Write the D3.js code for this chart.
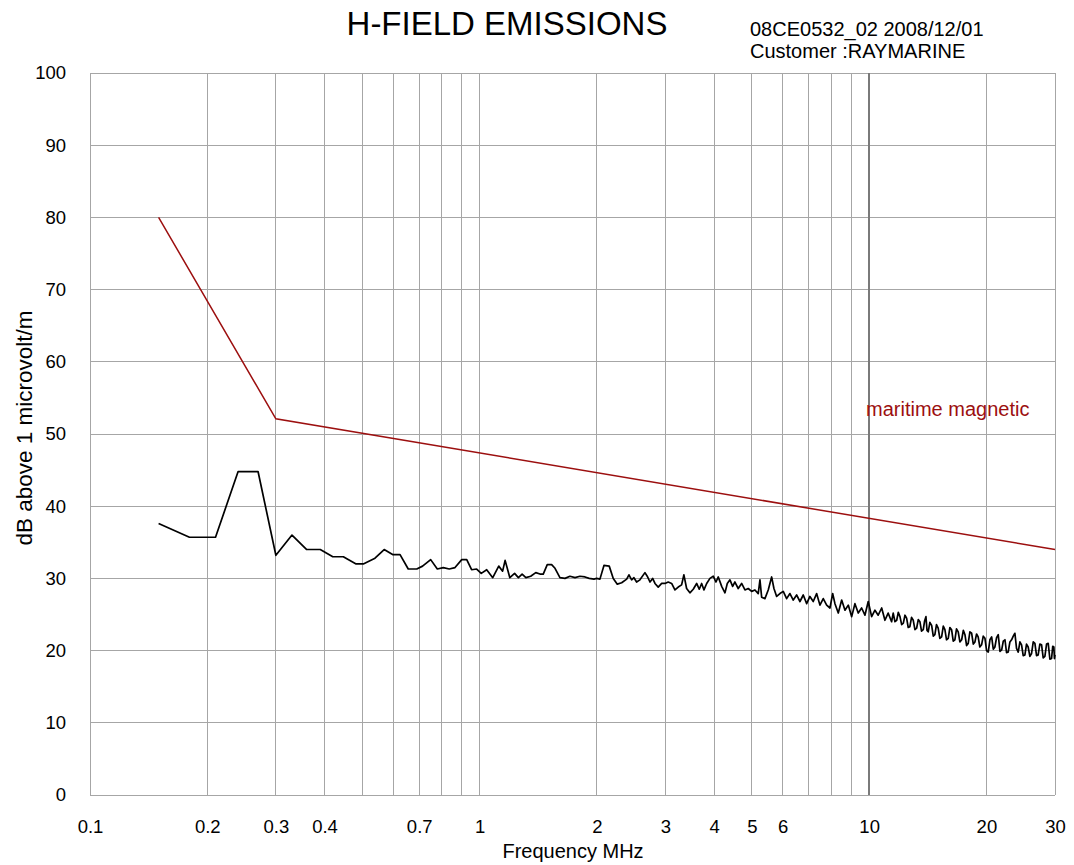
<!DOCTYPE html>
<html>
<head>
<meta charset="utf-8">
<script src="https://cdn.jsdelivr.net/npm/d3@7"></script>
<style>
  body { margin: 0; background: #fff; }
  svg { display: block; font-family: "Liberation Sans", Arial, sans-serif; }
</style>
</head>
<body>
<svg id="chart" width="1074" height="865"></svg>
<script>
// ---- data ----
const limitFreq = [0.15, 0.3, 30];
const limitDb = [80, 52.1, 34];

const measFreq = [
  0.15, 0.18, 0.21, 0.24, 0.27, 0.30, 0.33, 0.36, 0.39, 0.42, 0.447,
  0.482, 0.503, 0.539, 0.569, 0.598, 0.625, 0.656, 0.690, 0.714, 0.749,
  0.779, 0.807, 0.836, 0.865, 0.900, 0.927, 0.954, 0.983, 1.01, 1.043,
  1.081, 1.12, 1.146, 1.163, 1.196, 1.23, 1.258, 1.286, 1.315, 1.353,
  1.394, 1.429, 1.457, 1.492, 1.531, 1.562, 1.608, 1.657, 1.706, 1.758,
  1.810, 1.865, 1.912, 1.966, 1.998, 2.037, 2.086, 2.152, 2.204, 2.257,
  2.316, 2.386, 2.418, 2.457, 2.490, 2.530, 2.580, 2.658, 2.694, 2.738,
  2.782, 2.820, 2.875, 2.934, 2.992, 3.050, 3.112, 3.173, 3.236, 3.301,
  3.346, 3.400, 3.467, 3.536, 3.608, 3.664, 3.716, 3.767, 3.828, 3.903,
  3.980, 4.044, 4.100, 4.183, 4.265, 4.324, 4.393, 4.463, 4.524, 4.613,
  4.707, 4.800, 4.894, 4.994, 5.092, 5.192, 5.245, 5.298, 5.402, 5.508,
  5.620, 5.697, 5.789, 5.902, 6.019, 6.141, 6.262, 6.386, 6.515, 6.644,
  6.775, 6.913, 7.047, 7.187, 7.332, 7.477, 7.625, 7.780, 7.933, 8.061,
  8.171, 8.333, 8.502, 8.670, 8.840, 9.020, 9.195, 9.376, 9.566, 9.755,
  9.947, 10.15, 10.35, 10.55, 10.77, 10.98, 11.19, 11.42,
  11.53, 11.65, 11.77, 11.88, 12.00, 12.12, 12.24, 12.36, 12.48, 12.60,
  12.72, 12.85, 12.98, 13.11, 13.24, 13.37, 13.50, 13.63, 13.77, 13.88,
  13.99, 14.08, 14.18, 14.32, 14.47, 14.61, 14.75, 14.89, 15.04, 15.19,
  15.35, 15.50, 15.65, 15.80, 15.96, 16.12, 16.28, 16.44, 16.60, 16.76,
  16.93, 17.10, 17.28, 17.45, 17.62, 17.79, 17.96, 18.14, 18.33, 18.51,
  18.69, 18.87, 19.05, 19.24, 19.44, 19.63, 19.83, 20.02, 20.22, 20.42,
  20.63, 20.83, 21.03, 21.24, 21.45, 21.67, 21.89, 22.10, 22.32, 22.53,
  22.75, 22.98, 23.21, 23.44, 23.67, 23.90, 24.14, 24.38, 24.62, 24.86,
  25.11, 25.35, 25.60, 25.86, 26.12, 26.38, 26.64, 26.90, 27.16, 27.43,
  27.71, 27.98, 28.26, 28.54, 28.82, 29.11, 29.40, 29.60, 29.80, 29.90, 30.0
];
const measDb = [
  37.6, 35.7, 35.7, 44.8, 44.8, 33.2, 36.0, 34.0, 34.0, 33.0, 33.0,
  32.0, 32.0, 32.8, 34.0, 33.3, 33.3, 31.3, 31.3, 31.7, 32.6,
  31.3, 31.5, 31.3, 31.5, 32.6, 32.6, 31.2, 31.3, 30.7, 31.2,
  30.1, 31.7, 31.0, 32.5, 30.1, 30.7, 30.1, 30.6, 30.1, 30.3,
  30.8, 30.6, 30.6, 31.9, 31.9, 31.4, 30.1, 30.0, 30.3, 30.1,
  30.3, 30.2, 30.0, 29.9, 30.0, 29.9, 31.8, 31.7, 30.0, 29.2,
  29.4, 29.9, 30.5, 29.8, 30.1, 29.5, 29.8, 30.8, 30.3, 29.5,
  30.0, 29.3, 28.8, 29.3, 29.3, 29.5, 29.3, 28.4, 28.8, 29.1,
  30.5, 28.6, 28.0, 28.5, 29.3, 28.5, 29.3, 28.4, 29.3, 30.0,
  30.3, 29.5, 30.2, 28.9, 28.0, 29.3, 29.8, 28.9, 29.5, 28.6,
  29.3, 28.4, 28.6, 28.2, 28.4, 27.9, 29.8, 27.4, 27.2, 28.4,
  30.2, 28.6, 27.5, 27.9, 28.2, 27.2, 27.9, 27.0, 27.7, 26.8,
  27.7, 26.5, 27.5, 26.8, 27.9, 26.3, 27.2, 26.3, 25.9, 27.9,
  26.5, 25.2, 27.0, 25.6, 26.3, 24.7, 26.5, 25.2, 25.9, 24.9,
  26.8, 24.7, 25.6, 24.9, 25.9, 24.2, 25.2, 24.0,
  25.2, 24.0, 24.2, 25.3, 24.7, 23.6, 23.8, 24.9, 24.5, 23.2,
  23.3, 24.6, 24.2, 22.9, 23.1, 24.3, 24.0, 22.7, 22.9, 24.1,
  24.7, 22.8, 22.6, 23.9, 23.5, 22.0, 22.2, 23.6, 23.1, 21.7,
  21.9, 23.4, 22.9, 21.5, 21.7, 23.2, 22.9, 21.3, 21.5, 23.0,
  22.6, 21.2, 21.5, 22.8, 22.2, 20.7, 21.0, 22.6, 22.4, 20.9,
  21.2, 22.3, 21.9, 20.5, 20.8, 22.0, 21.7, 20.0, 19.8, 21.5,
  21.9, 20.2, 20.5, 21.8, 22.2, 19.9, 20.1, 21.3, 21.5, 19.7,
  19.8, 21.2, 21.5, 22.0, 22.4, 20.3, 19.8, 21.2, 20.8, 19.3,
  19.4, 20.9, 20.5, 19.2, 19.6, 21.2, 21.0, 19.3, 19.4, 20.9,
  20.8, 19.0, 19.2, 20.9, 21.0, 18.8, 18.9, 20.6, 20.5, 18.9, 19.4
];

const xTickLabels = [0.1, 0.2, 0.3, 0.4, 0.7, 1, 2, 3, 4, 5, 6, 10, 20, 30];
const xGridValues = [0.2, 0.3, 0.4, 0.5, 0.6, 0.7, 0.8, 0.9, 1, 2, 3, 4, 5, 6, 7, 8, 9, 10, 20, 30];
const yTicks = [0, 10, 20, 30, 40, 50, 60, 70, 80, 90, 100];

// ---- chart ----
const svg = d3.select("#chart");
const x = d3.scaleLog().domain([0.1, 30]).range([90, 1055]);
const y = d3.scaleLinear().domain([0, 100]).range([795, 73]);
const FONT = "Liberation Sans, Arial, sans-serif";

const grid = svg.append("g");
grid.selectAll("line.h").data(yTicks).join("line")
  .attr("x1", x(0.1)).attr("x2", x(30))
  .attr("y1", d => y(d)).attr("y2", d => y(d))
  .attr("stroke", "#a6a6a6").attr("stroke-width", 1).attr("shape-rendering", "crispEdges");
grid.selectAll("line.v").data([0.1].concat(xGridValues)).join("line")
  .attr("x1", d => x(d)).attr("x2", d => x(d))
  .attr("y1", y(0)).attr("y2", y(100))
  .attr("stroke", d => d === 10 ? "#7a7a7a" : "#a6a6a6")
  .attr("stroke-width", d => d === 10 ? 2 : 1)
  .attr("shape-rendering", "crispEdges");

// y axis labels
const yAxis = d3.axisLeft(y).tickValues(yTicks).tickSize(0).tickPadding(24);
svg.append("g").attr("transform", `translate(${x(0.1)},0)`).call(yAxis)
  .call(g => g.select(".domain").remove())
  .selectAll("text").attr("font-size", 18.5).attr("fill", "#000")
  .attr("font-family", FONT);

// x axis labels
const xAxis = d3.axisBottom(x).tickValues(xTickLabels).tickSize(0).tickPadding(25)
  .tickFormat(d => String(d));
svg.append("g").attr("transform", `translate(0,${y(0)})`).call(xAxis)
  .call(g => g.select(".domain").remove())
  .selectAll("text").attr("font-size", 18.5).attr("fill", "#000")
  .attr("font-family", FONT);

// limit line
const limitData = limitFreq.map((f, i) => [f, limitDb[i]]);
svg.append("path").datum(limitData)
  .attr("fill", "none").attr("stroke", "#9c0f0f").attr("stroke-width", 1.5)
  .attr("d", d3.line().x(d => x(d[0])).y(d => y(d[1])));

// measured line
const measData = measFreq.map((f, i) => [f, measDb[i]]);
svg.append("path").datum(measData)
  .attr("fill", "none").attr("stroke", "#000").attr("stroke-width", 1.7)
  .attr("stroke-linejoin", "round")
  .attr("d", d3.line().x(d => x(d[0])).y(d => y(d[1])));

// texts
svg.append("text").attr("x", 507).attr("y", 35).attr("text-anchor", "middle")
  .attr("font-size", 33).text("H-FIELD EMISSIONS");
svg.append("text").attr("x", 750).attr("y", 36).attr("font-size", 20)
  .text("08CE0532_02 2008/12/01");
svg.append("text").attr("x", 750).attr("y", 58).attr("font-size", 20)
  .text("Customer :RAYMARINE");
svg.append("text").attr("x", 866).attr("y", 416).attr("font-size", 20)
  .attr("fill", "#9c0f0f").text("maritime magnetic");
svg.append("text").attr("x", 573).attr("y", 858).attr("text-anchor", "middle")
  .attr("font-size", 20).text("Frequency MHz");
svg.append("text").attr("transform", "translate(32,428) rotate(-90)")
  .attr("text-anchor", "middle").attr("font-size", 22.5)
  .text("dB above 1 microvolt/m");
</script>
</body>
</html>
